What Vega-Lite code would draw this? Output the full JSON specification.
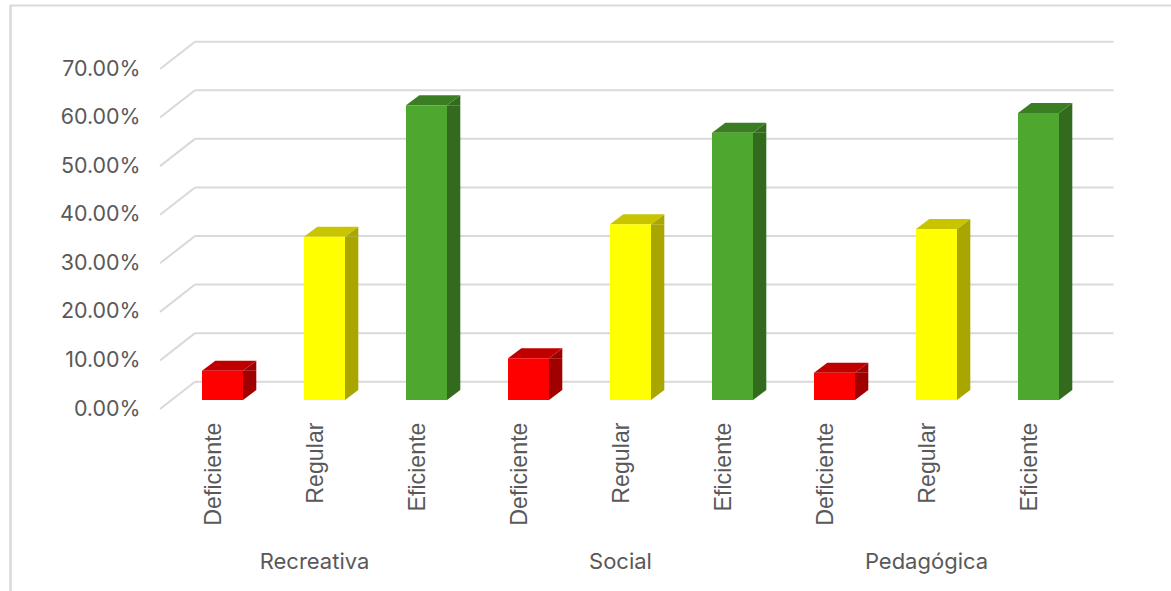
{
"$schema":"https://vega.github.io/schema/vega-lite/v6.json",
"width":1161,"height":586,"autosize":{"type":"none"},"padding":{"left":10,"top":5,"right":0,"bottom":0},
"background":"white","view":{"stroke":null},
"datasets":{
"bars":[
{"key":"Recreativa Deficiente","group":"Recreativa","level":"Deficiente","value":0.0603},
{"key":"Recreativa Regular","group":"Recreativa","level":"Regular","value":0.336},
{"key":"Recreativa Eficiente","group":"Recreativa","level":"Eficiente","value":0.607},
{"key":"Social Deficiente","group":"Social","level":"Deficiente","value":0.086},
{"key":"Social Regular","group":"Social","level":"Regular","value":0.362},
{"key":"Social Eficiente","group":"Social","level":"Eficiente","value":0.55},
{"key":"Pedagógica Deficiente","group":"Pedagógica","level":"Deficiente","value":0.056},
{"key":"Pedagógica Regular","group":"Pedagógica","level":"Regular","value":0.352},
{"key":"Pedagógica Eficiente","group":"Pedagógica","level":"Eficiente","value":0.591}],
"ticks":[{"tick":0},{"tick":0.1},{"tick":0.2},{"tick":0.3},{"tick":0.4},{"tick":0.5},{"tick":0.6},{"tick":0.7}],
"groups":[{"key":"Recreativa Regular","group":"Recreativa"},{"key":"Social Regular","group":"Social"},{"key":"Pedagógica Regular","group":"Pedagógica"}],
"frame":[{"edge":"frame"}]
},
"layer":[
{"data":{"name":"frame"},"mark":{"type":"rule","stroke":"#d9d9d9","strokeWidth":2,"yOffset":-54.5},
 "encoding":{"y":{"datum":0.7,"type":"quantitative","axis":null,"scale":{"domain":[0,0.7],"range":[395,55],"nice":false}}}},
{"data":{"name":"frame"},"mark":{"type":"rule","stroke":"#d9d9d9","strokeWidth":2.5,"xOffset":-212},
 "encoding":{"x":{"datum":"Recreativa Deficiente","type":"nominal","axis":null,"scale":{"type":"band","domain":["Recreativa Deficiente","Recreativa Regular","Recreativa Eficiente","Social Deficiente","Social Regular","Social Eficiente","Pedagógica Deficiente","Pedagógica Regular","Pedagógica Eficiente"],"range":[161.5,1079.5],"paddingInner":0,"paddingOuter":0}}}},
{"data":{"name":"ticks"},"mark":{"type":"rule","stroke":"#d9d9d9","strokeWidth":2,"yOffset":-18.3,"xOffset":-27.5,"x2Offset":75},
 "encoding":{"x":{"datum":"Recreativa Deficiente","type":"nominal","axis":null},"x2":{"datum":"Pedagógica Eficiente"},"y":{"field":"tick","type":"quantitative","axis":null}}},
{"data":{"name":"ticks"},"mark":{"type":"point","filled":false,"fillOpacity":0,"opacity":1,"stroke":"#d9d9d9","strokeWidth":2,"size":4,"shape":"M0,0 L-35,27.3","yOffset":-18.3,"xOffset":-27.5},
 "encoding":{"x":{"datum":"Recreativa Deficiente","type":"nominal","axis":null},"y":{"field":"tick","type":"quantitative","axis":null}}},
{"data":{"name":"bars"},"mark":{"type":"bar","width":13.3,"xOffset":27.15,"y2Offset":-10},
 "encoding":{"x":{"field":"key","type":"nominal","axis":null},"y":{"field":"value","type":"quantitative","axis":null},"y2":{"datum":0},
 "color":{"field":"level","type":"nominal","legend":null,"scale":{"domain":["Deficiente","Regular","Eficiente"],"range":["#a00000","#aaa600","#336b1e"]}}}},
{"data":{"name":"bars"},"mark":{"type":"point","filled":true,"opacity":1,"size":4,"shape":"M20.5,0 L33.8,-10 L33.8,0 Z"},
 "encoding":{"x":{"field":"key","type":"nominal","axis":null},"y":{"field":"value","type":"quantitative","axis":null},
 "fill":{"field":"level","type":"nominal","legend":null,"scale":{"domain":["Deficiente","Regular","Eficiente"],"range":["#a00000","#aaa600","#336b1e"]}}}},
{"data":{"name":"bars"},"mark":{"type":"point","filled":true,"opacity":1,"size":4,"shape":"M20.5,0 L20.5,-10 L33.8,-10 Z"},
 "encoding":{"x":{"field":"key","type":"nominal","axis":null},"y":{"datum":0,"axis":null},
 "fill":{"field":"level","type":"nominal","legend":null,"scale":{"domain":["Deficiente","Regular","Eficiente"],"range":["#a00000","#aaa600","#336b1e"]}}}},
{"data":{"name":"bars"},"mark":{"type":"point","filled":true,"opacity":1,"size":4,"shape":"M-20.5,0 L20.5,0 L33.8,-10 L-7.2,-10 Z"},
 "encoding":{"x":{"field":"key","type":"nominal","axis":null},"y":{"field":"value","type":"quantitative","axis":null},
 "fill":{"field":"level","type":"nominal","legend":null,"scale":{"domain":["Deficiente","Regular","Eficiente"],"range":["#c00000","#c8c400","#3b7d23"]}}}},
{"data":{"name":"bars"},"mark":{"type":"bar","width":41},
 "encoding":{"x":{"field":"key","type":"nominal","title":null,"axis":{"orient":"bottom","offset":-169,"domain":false,"ticks":false,"grid":false,"labelAngle":-90,"labelAlign":"right","labelBaseline":"middle","labelPadding":0,"labelOffset":-8.5,"labelFont":"Liberation Sans","labelFontSize":23.2,"labelColor":"#595959","labelExpr":"split(datum.label,' ')[1]"}},
 "y":{"field":"value","type":"quantitative","title":null,"axis":{"orient":"left","offset":-130,"domain":false,"ticks":false,"grid":false,"values":[0,0.1,0.2,0.3,0.4,0.5,0.6,0.7],"format":".2%","labelPadding":0,"labelOffset":9,"labelFont":"Inter","labelFontSize":21.4,"labelColor":"#595959"}},"y2":{"datum":0},
 "color":{"field":"level","type":"nominal","legend":null,"scale":{"domain":["Deficiente","Regular","Eficiente"],"range":["#ff0000","#ffff00","#4ea72e"]}}}},
{"data":{"name":"groups"},"mark":{"type":"text","font":"Inter","fontSize":22,"fill":"#595959","yOffset":162,"xOffset":-10},
 "encoding":{"x":{"field":"key","type":"nominal","axis":null},"y":{"datum":0,"axis":null},"text":{"field":"group"}}}
],
"resolve":{"scale":{"color":"independent","fill":"independent"},"axis":{"x":"independent","y":"independent"}}
}
